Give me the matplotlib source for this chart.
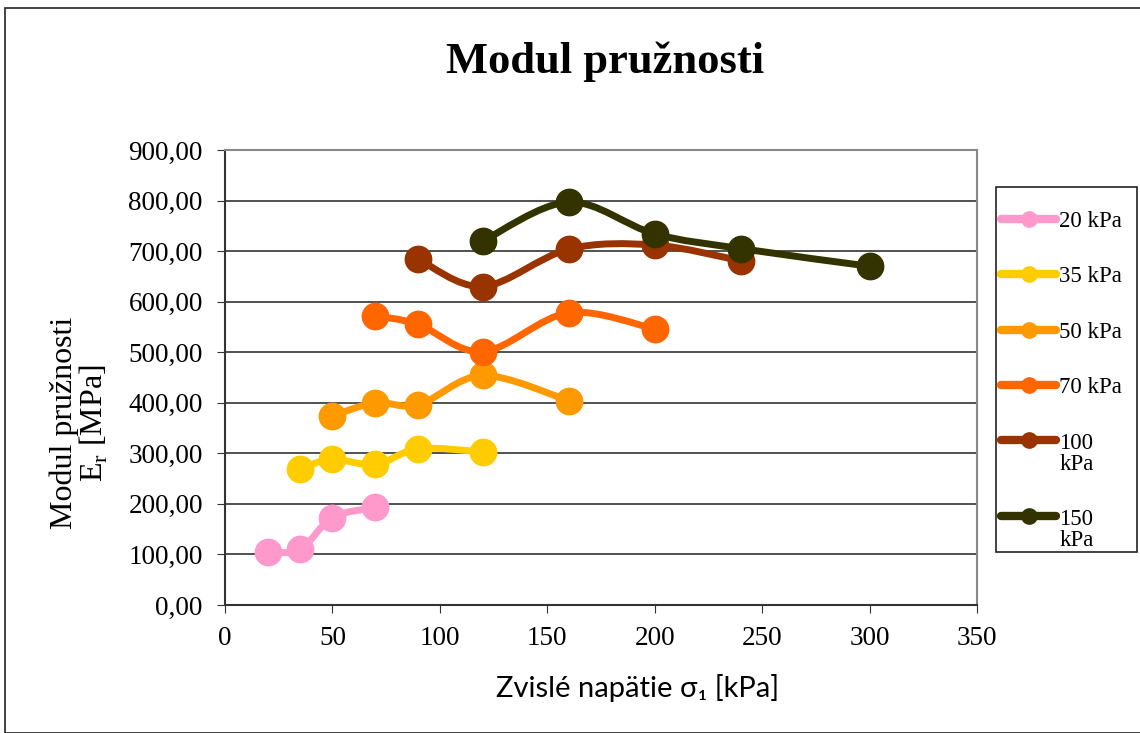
import matplotlib
matplotlib.use("Agg")
from matplotlib import pyplot as plt
from matplotlib.path import Path
from matplotlib.patches import PathPatch, Rectangle
from matplotlib.lines import Line2D
from matplotlib.legend_handler import HandlerLine2D

# confining pressure series, sigma1 [kPa] vs Er [MPa]
labels = ["20 kPa", "35 kPa", "50 kPa", "70 kPa", "100\nkPa", "150\nkPa"]
colors = ["#FF99CC", "#FFCC00", "#FF9900", "#FF6600", "#993300", "#333300"]

x20 = [20, 35, 50, 70]
y20 = [105, 110, 173, 193]
x35 = [35, 50, 70, 90, 120]
y35 = [270, 288, 278, 309, 303]
x50 = [50, 70, 90, 120, 160]
y50 = [374, 400, 396, 454, 404]
x70 = [70, 90, 120, 160, 200]
y70 = [572, 555, 501, 578, 546]
x100 = [90, 120, 160, 200, 240]
y100 = [684, 630, 704, 712, 681]
x150 = [120, 160, 200, 240, 300]
y150 = [720, 797, 734, 705, 670]

xs = [x20, x35, x50, x70, x100, x150]
ys = [y20, y35, y50, y70, y100, y150]

yticks = [0, 100, 200, 300, 400, 500, 600, 700, 800, 900]
xticks = [0, 50, 100, 150, 200, 250, 300, 350]

serif = "Liberation Serif"
W, H = 1140, 733


# smoothed line like the spreadsheet does it (bezier through the points)
def smooth_path(x, y):
    pts = list(zip(x, y))
    verts = [pts[0]]
    codes = [Path.MOVETO]
    n = len(pts)
    for i in range(n - 1):
        p0 = pts[i - 1] if i > 0 else pts[i]
        p1 = pts[i]
        p2 = pts[i + 1]
        p3 = pts[i + 2] if i + 2 < n else pts[i + 1]
        c1 = (p1[0] + (p2[0] - p0[0]) / 6, p1[1] + (p2[1] - p0[1]) / 6)
        c2 = (p2[0] - (p3[0] - p1[0]) / 6, p2[1] - (p3[1] - p1[1]) / 6)
        verts += [c1, c2, p2]
        codes += [Path.CURVE4] * 3
    return Path(verts, codes)


# legend handle that sits next to the first line of a two-line label
class TopLineHandler(HandlerLine2D):
    def create_artists(self, legend, orig_handle, xdescent, ydescent,
                       width, height, fontsize, trans):
        shift = 0.6 * fontsize
        return super().create_artists(legend, orig_handle, xdescent, ydescent - 2 * shift,
                                      width, height, fontsize, trans)


fig = plt.figure(figsize=(W / 100, H / 100), dpi=100)
# outer chart border
fig.patches.append(Rectangle((5 / W, 0), 1.2, 725 / H, transform=fig.transFigure,
                             fill=False, edgecolor="#222222", lw=1.2))
# legend box
fig.patches.append(Rectangle((996 / W, 1 - 552 / H), 141 / W, 365 / H,
                             transform=fig.transFigure, fill=False,
                             edgecolor="#222222", lw=1.2))

ax = fig.add_axes([225 / W, 128 / H, 752 / W, 455 / H])
ax.set_xlim(0, 350)
ax.set_ylim(0, 900)

for x, y, c in zip(xs, ys, colors):
    ax.add_patch(PathPatch(smooth_path(x, y), fill=False, edgecolor=c, lw=5,
                           capstyle="round", zorder=3))
    ax.plot(x, y, "o", color=c, markersize=19, zorder=4)

ax.set_yticks(yticks)
ax.set_yticklabels(["%d,00" % v for v in yticks], family=serif, fontsize=19.5)
ax.set_xticks(xticks)
ax.set_xticklabels([str(v) for v in xticks], family=serif, fontsize=19.5)
ax.tick_params(axis="both", direction="out", length=6, color="#333333")
ax.tick_params(axis="x", pad=9)
ax.tick_params(axis="y", pad=10)
ax.grid(axis="y", color="#333333", lw=1.2)
ax.set_axisbelow(True)
for s in ["top", "right"]:
    ax.spines[s].set_color("#888888")
    ax.spines[s].set_linewidth(1.5)
for s in ["left", "bottom"]:
    ax.spines[s].set_color("#333333")
    ax.spines[s].set_linewidth(1.5)

ax.set_xlabel("Zvislé napätie σ₁ [kPa]", family="Lato", fontsize=21)
ax.xaxis.set_label_coords(0.549, -0.152)
ax.set_ylabel("Modul pružnosti\nE$_\\mathregular{r}$ [MPa]", family=serif, fontsize=23,
              linespacing=0.95)
ax.yaxis.set_label_coords(-0.153, 0.40)

fig.text(605 / W, 1 - 62 / H, "Modul pružnosti", family=serif, fontsize=32,
         fontweight="bold", ha="center", va="center")

handles = [Line2D([0], [0], color=c, lw=6, marker="o", markersize=11,
                  solid_capstyle="round") for c in colors]
hmap = {h: TopLineHandler() for h, l in zip(handles, labels) if "\n" in l}
leg = fig.legend(handles, labels, loc="upper left",
                 bbox_to_anchor=(1001 / W, 1 - 211 / H),
                 prop={"family": serif, "size": 16.5}, frameon=False,
                 handlelength=2.4, handletextpad=0.15,
                 labelspacing=1.5, borderpad=0, borderaxespad=0, handler_map=hmap)
for t in leg.get_texts():
    t.set_linespacing(1.0)

fig.savefig("out.png", dpi=100)
